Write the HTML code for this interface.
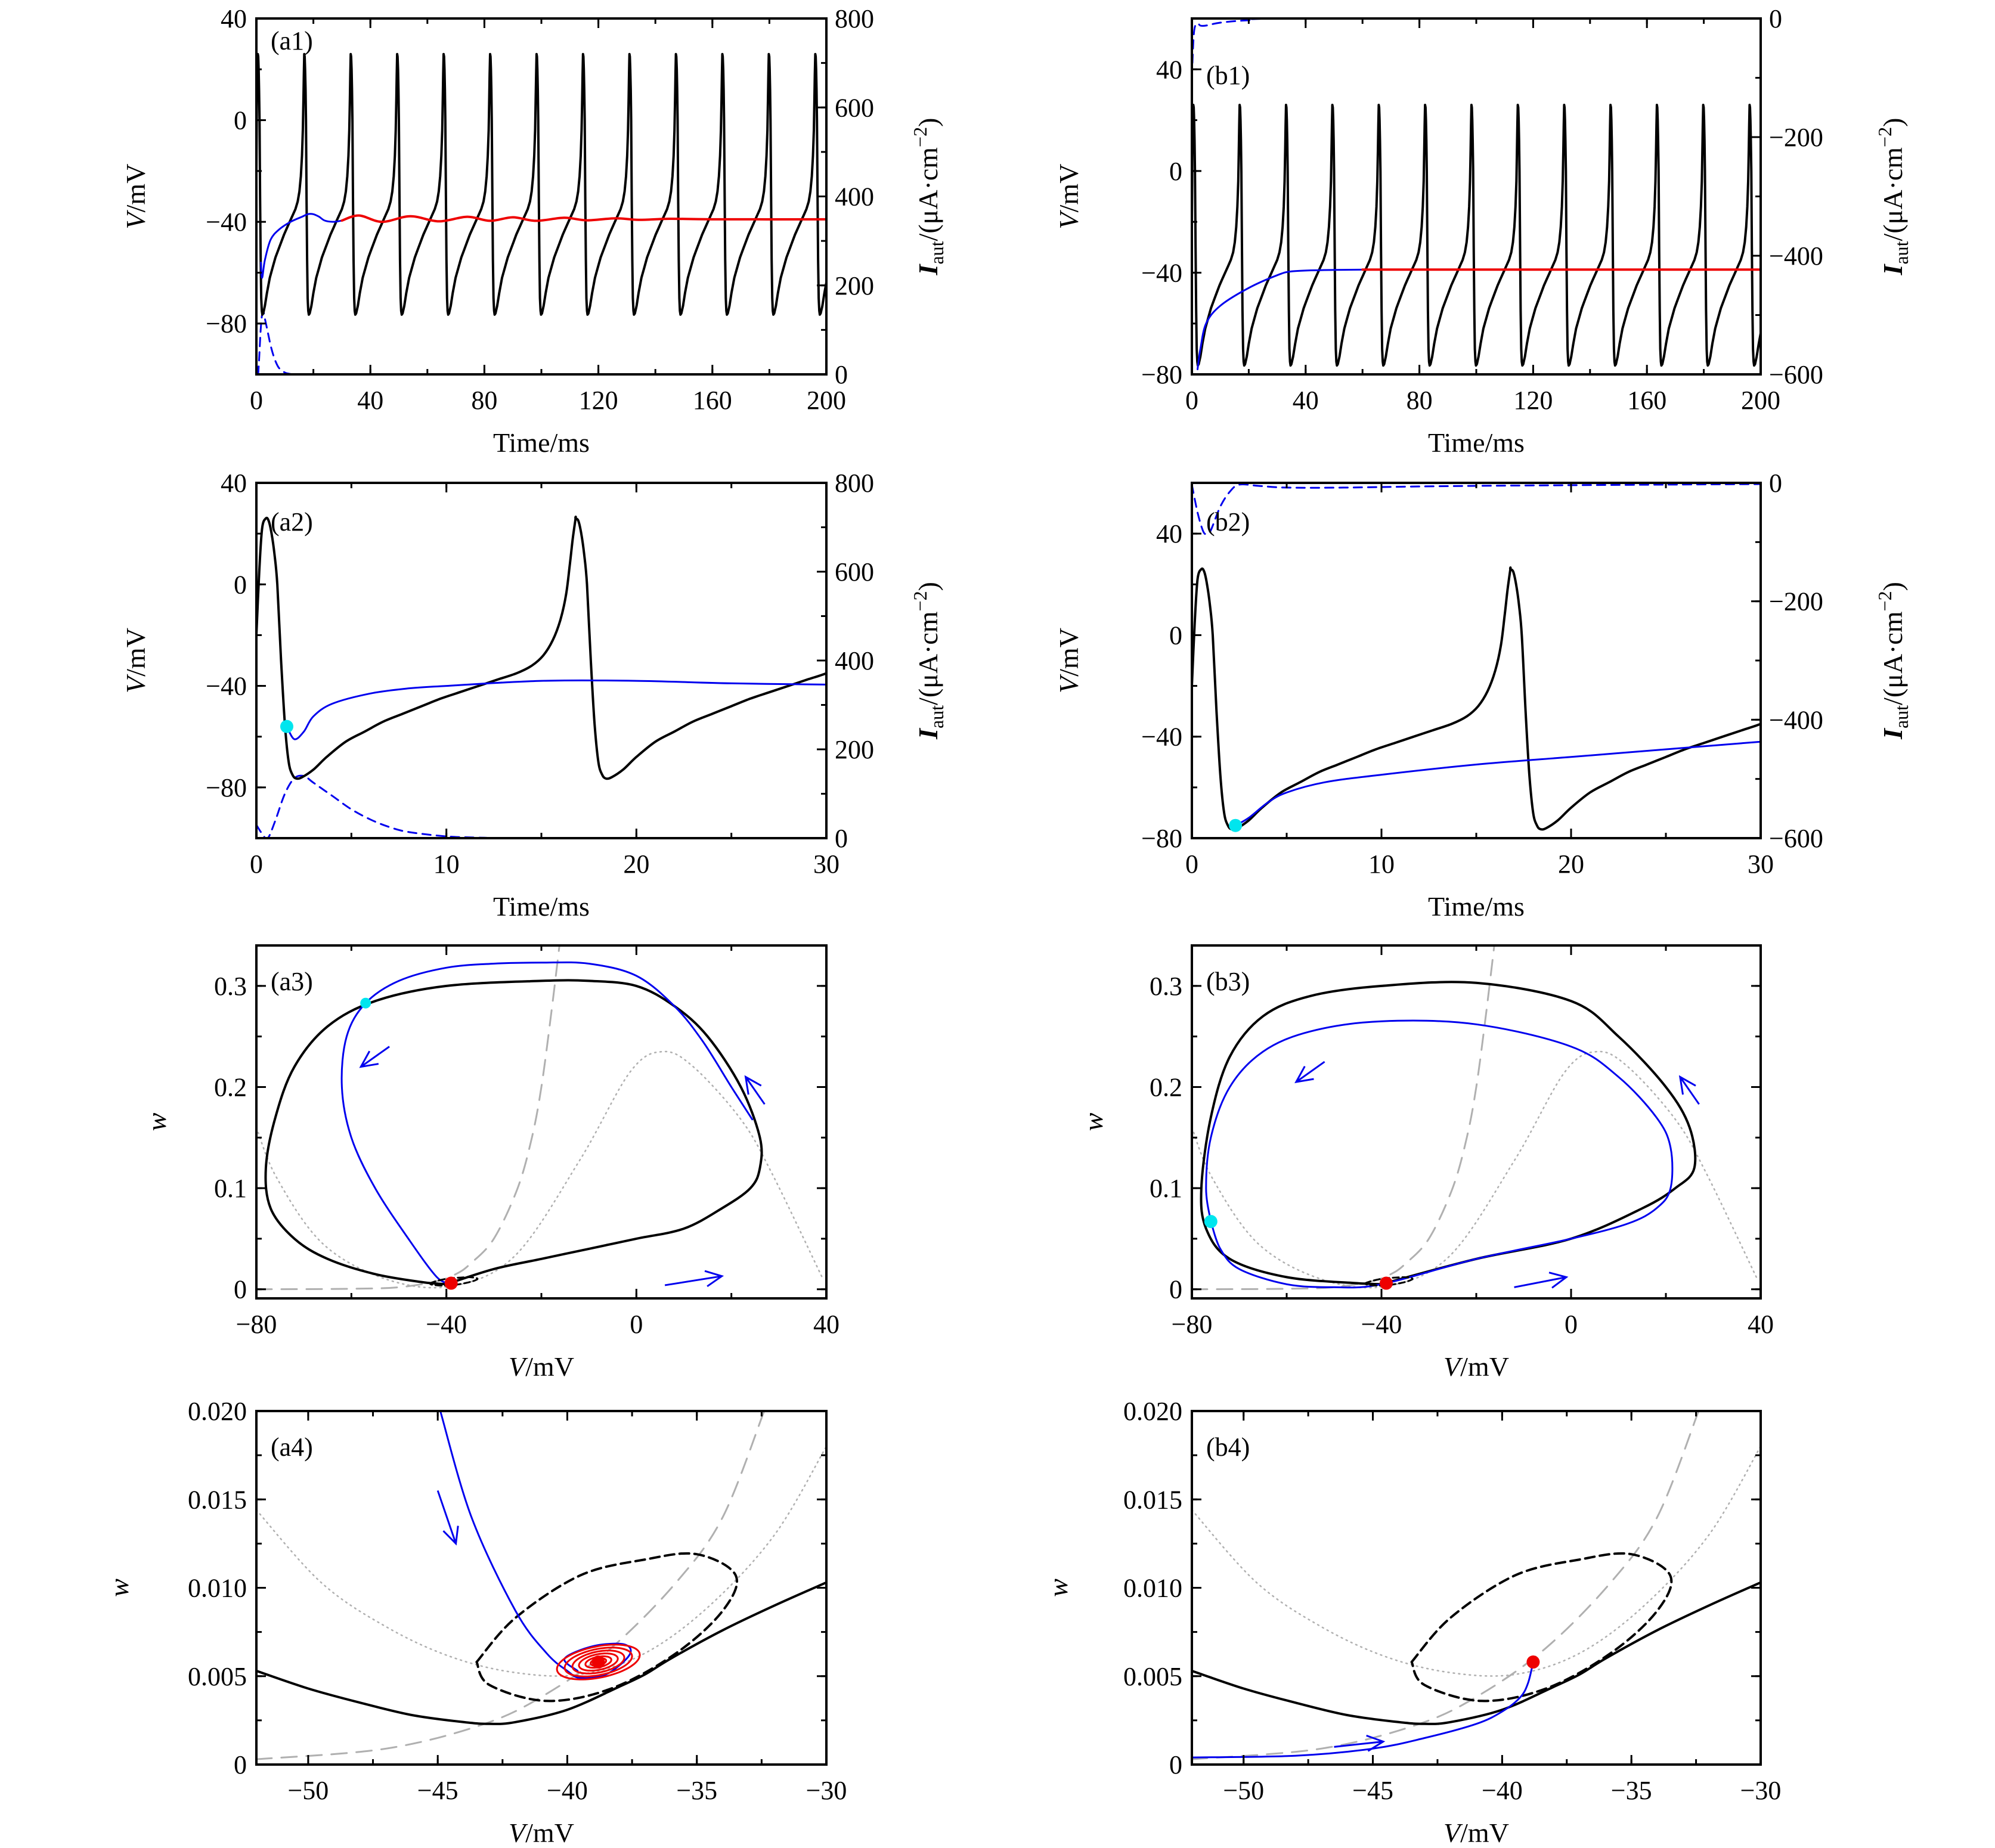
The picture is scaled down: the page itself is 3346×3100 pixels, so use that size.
<!DOCTYPE html>
<html><head><meta charset="utf-8"><style>
html,body{margin:0;padding:0;background:#fff}
svg{display:block}
text{font-family:"Liberation Serif","DejaVu Serif",serif;fill:#000}
</style></head><body>
<svg id="fig" width="3346" height="3100" viewBox="0 0 3346 3100" xmlns="http://www.w3.org/2000/svg"></svg>
<script>
// ---------- data ----------
const spikePeaks=[0.5,16.8,33.1,49.4,65.7,82.0,98.3,114.6,130.9,147.2,163.5,179.8,196.1];
const cycleT=[0,0.15,0.3,0.45,0.6,0.8,1.0,1.2,1.4,1.6,1.9,2.5,3.2,4.2,5.2,6.2,7.2,8.2,9.2,10.2,11.2,12.2,13.2,14.0,14.6,15.1,15.5,15.8,16.0,16.15,16.3];
const cycleV=[26,25,20,12,0,-30,-55,-70,-75,-76.5,-76,-73,-68,-62,-58,-54,-51,-48,-45,-42.5,-40,-37.5,-35,-32,-28,-22,-14,-4,8,18,26];
const startT=[0,0.15,0.3];const startV=[-20,5,22];

const a1BlueT=[1.6,2,3,5,8,12,16,18,20,22,24,27,30];
const a1BlueV=[-56,-62,-55,-47,-43,-40,-38,-37,-37,-38,-39.5,-40,-39.5];
const a1RedT=[30,36,44,54,64,74,82,90,98,108,116,126,134,145,160,200];
const a1RedV=[-39.5,-37.5,-40,-37.8,-39.8,-38,-39.6,-38.2,-39.6,-38.4,-39.4,-38.6,-39.2,-38.8,-39,-39];
const aDashT=[0,0.3,0.6,1,1.5,2,2.5,3,4,5,6,7,8,10,12,14,30];
const aDashI=[30,10,0,40,100,135,140,125,95,65,42,25,14,4,1,0,0];
const a2BlueT=[1.6,2,2.5,3,4,6,8,10,15,20,25,30];
const a2BlueV=[-56,-61,-58,-52,-47,-43,-41,-40,-38,-38,-39,-39.5];

const b1BlueT=[2,3,5,10,20,30,35,45,60];
const b1BlueV=[-78,-70,-60,-53,-46,-41,-39.5,-39,-38.8];
const b1RedT=[60,200];const b1RedV=[-38.8,-38.8];
const b1DashT=[0,0.5,1,2,3,5,10,20,40,200];
const b1DashI=[-99,-40,-15,-8,-12,-12,-7,-3,0,0];
const b2BlueT=[2.3,3,4,5,7,10,15,20,25,30];
const b2BlueV=[-75,-72,-66,-62,-58,-55,-51,-48,-45,-42];
const b2DashT=[0,0.3,0.6,0.8,1,1.5,2,2.5,3.5,5,8,15,30];
const b2DashI=[-3,-50,-82,-86,-80,-40,-15,-3,-5,-8,-8,-5,-2];

const a3CycV=[-40,-30,-20,-10,0,10,18,24,26,26,22,15,8,0,-10,-20,-40,-55,-65,-72,-76,-78,-77,-72,-65,-55,-45,-40];
const a3CycW=[0.005,0.02,0.03,0.04,0.05,0.06,0.08,0.1,0.12,0.15,0.2,0.25,0.28,0.30,0.305,0.305,0.3,0.285,0.26,0.22,0.17,0.12,0.08,0.05,0.03,0.015,0.007,0.005];
const a3BlueV=[24.4,20,14,8,0,-10,-20,-30,-40,-50,-57,-61,-62,-60,-55,-48,-42,-39];
const a3BlueW=[0.168,0.2,0.245,0.28,0.31,0.322,0.323,0.322,0.318,0.305,0.283,0.25,0.2,0.15,0.1,0.05,0.012,0.006];
const b3CycV=[-40,-20,0,15,22,26,25,20,10,0,-20,-40,-55,-65,-72,-76,-78,-77,-72,-60,-45,-40];
const b3CycW=[0.005,0.03,0.05,0.08,0.1,0.12,0.16,0.2,0.25,0.285,0.303,0.3,0.29,0.27,0.23,0.17,0.1,0.06,0.03,0.012,0.006,0.005];
const b3BlueV=[-76,-74,-70,-60,-50,-40,-20,0,12,18,21,21,18,10,0,-20,-40,-55,-65,-72,-76,-77,-76];
const b3BlueW=[0.067,0.04,0.02,0.005,0.002,0.005,0.03,0.05,0.065,0.08,0.1,0.14,0.17,0.21,0.24,0.262,0.265,0.255,0.235,0.2,0.15,0.1,0.067];
const wNullV=[-80,-60,-50,-42,-38,-35,-30,-25,-22,-20,-18,-16.2];
const wNullW=[0,0.0005,0.002,0.008,0.015,0.025,0.05,0.1,0.15,0.2,0.27,0.34];
const vNullV=[-80,-75.7,-66,-52.7,-39,-25.6,-12,-1.3,5.5,12,22,28.5,39.3];
const vNullW=[0.16,0.11,0.045,0.01,0.003,0.033,0.127,0.215,0.235,0.22,0.168,0.115,0.01];

const zSolidV=[-52,-50,-48,-46,-44,-43,-42,-40,-38,-37,-36,-34,-32,-30];
const zSolidW=[0.0053,0.0043,0.0035,0.0028,0.0024,0.0023,0.0024,0.0031,0.0044,0.0051,0.006,0.0076,0.009,0.0103];
const zEllV=[-43.5,-42,-39.5,-37,-35,-33.5,-34,-35.8,-38.3,-40.8,-43,-43.5];
const zEllW=[0.0058,0.0083,0.0107,0.0116,0.0119,0.0107,0.0087,0.0063,0.0043,0.0036,0.0045,0.0058];
const zWNullV=[-52,-47,-43.2,-40.8,-38.3,-35.8,-34,-32.4];
const zWNullW=[0.0003,0.0009,0.0023,0.004,0.0066,0.0103,0.014,0.02];
const zVNullV=[-52,-49.5,-47,-44.5,-42,-39.5,-37,-34.5,-32,-30];
const zVNullW=[0.0144,0.0103,0.0078,0.0061,0.0052,0.0051,0.0063,0.009,0.013,0.018];
const a4BlueV=[-44.9,-43.7,-42,-40.8,-40,-39.5,-38.5,-37.6,-37.8,-39,-40.1,-39.6];
const a4BlueW=[0.02,0.014,0.0087,0.0063,0.0053,0.0049,0.0051,0.0062,0.0068,0.0067,0.006,0.0053];
const spiralRx=[1.6,1.3,1.0,0.75,0.5,0.3];
const spiralRy=[0.0009,0.00075,0.0006,0.00045,0.0003,0.0002];
const fixedV=-38.8, fixedW=0.0058;
const b4BlueV=[-52,-48,-45,-43,-41,-40,-39.3,-39,-38.8];
const b4BlueW=[0.0004,0.0005,0.0009,0.0015,0.0023,0.003,0.0038,0.0046,0.0058];

// ---------- helpers ----------
const NS="http://www.w3.org/2000/svg";
const svg=document.getElementById('fig');
function el(tag,attrs,parent){const e=document.createElementNS(NS,tag);for(const k in attrs)e.setAttribute(k,attrs[k]);(parent||svg).appendChild(e);return e;}
function fmt(v){let s=String(Math.round(v*1000)/1000);if(s.startsWith('-'))s='\u2212'+s.slice(1);return s;}
function smoothPath(P){
  if(P.length<3){return P.map((p,i)=>(i?'L':'M')+p[0].toFixed(1)+','+p[1].toFixed(1)).join('');}
  let d='M'+P[0][0].toFixed(1)+','+P[0][1].toFixed(1);
  for(let i=0;i<P.length-1;i++){const p0=P[Math.max(0,i-1)],p1=P[i],p2=P[i+1],p3=P[Math.min(P.length-1,i+2)];
    const c1=[p1[0]+(p2[0]-p0[0])/6,p1[1]+(p2[1]-p0[1])/6],c2=[p2[0]-(p3[0]-p1[0])/6,p2[1]-(p3[1]-p1[1])/6];
    d+='C'+c1[0].toFixed(1)+','+c1[1].toFixed(1)+' '+c2[0].toFixed(1)+','+c2[1].toFixed(1)+' '+p2[0].toFixed(1)+','+p2[1].toFixed(1);}
  return d;
}
let clipId=0;
function makePanel(c){
  const g=el('g',{});
  
  
  const sx=v=>c.x0+(v-c.xd[0])/(c.xd[1]-c.xd[0])*(c.x1-c.x0);
  const sy=v=>c.y1-(v-c.yd[0])/(c.yd[1]-c.yd[0])*(c.y1-c.y0);
  const sy2=c.y2d?(v=>c.y1-(v-c.y2d[0])/(c.y2d[1]-c.y2d[0])*(c.y1-c.y0)):null;
  const id='clip'+(clipId++);
  const cp=el('clipPath',{id},g);el('rect',{x:c.x0,y:c.y0,width:c.x1-c.x0,height:c.y1-c.y0},cp);
  const plot=el('g',{'clip-path':`url(#${id})`},g);
  const api={sx,sy,sy2,plot,g,c};
  api.line=(xs,ys,st,name,useY2,sharp)=>{const f=useY2?sy2:sy;const P=xs.map((x,i)=>[sx(x),f(ys[i])]);
    const d=sharp?P.map((p,i)=>(i?'L':'M')+p[0].toFixed(1)+','+p[1].toFixed(1)).join(''):smoothPath(P);
    const p=el('path',Object.assign({d,fill:'none','stroke-linejoin':'round','stroke-linecap':'round'},st),plot);
    
    return p;};
  api.frame=()=>{
    const drawX=(list,len)=>list.forEach(v=>{const x=sx(v);el('line',{x1:x,x2:x,y1:c.y1,y2:c.y1-len,stroke:'#000','stroke-width':3},g);el('line',{x1:x,x2:x,y1:c.y0,y2:c.y0+len,stroke:'#000','stroke-width':3},g);});
    drawX(c.xMaj,16);drawX(c.xMin,9);
    const drawY=(list,len,f,left,right)=>list.forEach(v=>{const y=f(v);if(left)el('line',{x1:c.x0,x2:c.x0+len,y1:y,y2:y,stroke:'#000','stroke-width':3},g);if(right)el('line',{x1:c.x1,x2:c.x1-len,y1:y,y2:y,stroke:'#000','stroke-width':3},g);});
    drawY(c.yMaj,16,sy,true,!c.y2d);drawY(c.yMin,9,sy,true,!c.y2d);
    if(c.y2d){drawY(c.y2Maj,16,sy2,false,true);drawY(c.y2Min,9,sy2,false,true);}
    const fr=el('rect',{x:c.x0,y:c.y0,width:c.x1-c.x0,height:c.y1-c.y0,fill:'none',stroke:'#000','stroke-width':4},g);
    
    
    c.xMaj.forEach(v=>{const t=el('text',{x:sx(v),y:c.y1+58,'font-size':44,'text-anchor':'middle'},g);t.textContent=fmt(v);
      
      });
    c.yMaj.forEach(v=>{const t=el('text',{x:c.x0-16,y:sy(v)+15,'font-size':44,'text-anchor':'end'},g);t.textContent=c.yfmt?c.yfmt(v):fmt(v);
      
      });
    if(c.y2d)c.y2Maj.forEach(v=>{const t=el('text',{x:c.x1+14,y:sy2(v)+15,'font-size':44,'text-anchor':'start'},g);t.textContent=fmt(v);
      
      });
    const xt=el('text',{x:(c.x0+c.x1)/2,y:c.y1+130,'font-size':46,'text-anchor':'middle'},g);
    if(c.xtitle==='time'){xt.textContent='Time/ms';}else{const a=el('tspan',{'font-style':'italic'},xt);a.textContent='V';const b=el('tspan',{},xt);b.textContent='/mV';}
    
    
    const ytx=c.ytx, yty=(c.y0+c.y1)/2;
    const yt=el('text',{x:ytx,y:yty,'font-size':46,'text-anchor':'middle',transform:`rotate(-90 ${ytx} ${yty})`},g);
    if(c.ytitle==='w'){const a=el('tspan',{'font-style':'italic'},yt);a.textContent='w';}
    else{const a=el('tspan',{'font-style':'italic'},yt);a.textContent='V';const b=el('tspan',{},yt);b.textContent='/mV';}
    
    
    if(c.y2d){const x2=c.y2tx;const t=el('text',{x:x2,y:yty,'font-size':46,'text-anchor':'middle',transform:`rotate(-90 ${x2} ${yty})`},g);
      const a=el('tspan',{'font-style':'italic','font-weight':'bold'},t);a.textContent='I';
      const s=el('tspan',{'font-size':32,dy:10},t);s.textContent='aut';
      const b=el('tspan',{dy:-10},t);b.textContent='/(μA·cm';
      const s2=el('tspan',{'font-size':32,dy:-18},t);s2.textContent='−2';
      const b2=el('tspan',{dy:18},t);b2.textContent=')';
      
      }
    const pl=el('text',{x:c.x0+24,y:c.y0+c.labY,'font-size':44},g);pl.textContent=c.label;
    
    
  };
  api.dot=(v,w,r,color,name)=>{const d=el('circle',{cx:sx(v),cy:sy(w),r,fill:color},plot);
    
    };
  api.arrow=(v1,w1,v2,w2,name)=>{const x1=sx(v1),y1=sy(w1),x2=sx(v2),y2=sy(w2);const a=Math.atan2(y2-y1,x2-x1);const L=30;
    const d=`M${x1},${y1}L${x2},${y2}M${x2-L*Math.cos(a-0.45)},${y2-L*Math.sin(a-0.45)}L${x2},${y2}L${x2-L*Math.cos(a+0.45)},${y2-L*Math.sin(a+0.45)}`;
    const p=el('path',{d,fill:'none',stroke:'#0000ee','stroke-width':3},plot);
    
    };
  return api;
}
function train(tmax){const T=startT.slice(),V=startV.slice();
  spikePeaks.forEach(p=>{for(let i=0;i<cycleT.length;i++){const t=p+cycleT[i];if(t<=tmax+16.3){T.push(t);V.push(cycleV[i]);}}});return [T,V];}
const range=(a,b,s)=>{const r=[];for(let v=a;v<=b+1e-9;v+=s)r.push(Math.round(v*1e6)/1e6);return r;};

const L={x0:430,x1:1386,ytx:243,y2tx:1572}, R={x0:1999,x1:2953,ytx:1808,y2tx:3190};
const rows=[[31,628],[810,1406],[1586,2178],[2367,2960]];
const BLK={stroke:'#000','stroke-width':4}, BLU={stroke:'#0000ee','stroke-width':3}, RED={stroke:'#ee0000','stroke-width':4};
const BDASH={stroke:'#0000ee','stroke-width':3,'stroke-dasharray':'14 10'};
const GDASH={stroke:'#b0b0b0','stroke-width':3,'stroke-dasharray':'26 16'};
const GDOT={stroke:'#b0b0b0','stroke-width':2.5,'stroke-dasharray':'2 7'};

function timePanel(side,row,name,label,xmax,xMajS,xMinS,aType,labY){
  const isA=aType;
  return makePanel(Object.assign({},side,{name,label,labY,y0:rows[row][0],y1:rows[row][1],xd:[0,xmax],
    yd:isA?[-100,40]:[-80,60],y2d:isA?[0,800]:[-600,0],
    xMaj:range(0,xmax,xMajS),xMin:range(0,xmax,xMinS),
    yMaj:[-80,-40,0,40],yMin:isA?range(-100,40,20):range(-80,60,20),
    y2Maj:isA?range(0,800,200):range(-600,0,200),y2Min:isA?range(0,800,100):range(-600,0,100),
    xtitle:'time',ytitle:'V'}));
}
const [TT,VV]=train(200);
let p=timePanel(L,0,'panel-a1','(a1)',200,40,20,true,52);
p.line(aDashT,aDashI,BDASH,'iaut-dashed-line',true);
p.line(TT,VV,BLK,'membrane-voltage-line',false,true);
p.line(a1BlueT,a1BlueV,BLU,'transient-line');
p.line(a1RedT,a1RedV,RED,'steady-state-line');
p.frame();

p=timePanel(R,0,'panel-b1','(b1)',200,40,20,false,110);
p.line(b1DashT,b1DashI,BDASH,'iaut-dashed-line',true);
p.line(TT,VV,BLK,'membrane-voltage-line',false,true);
p.line(b1BlueT,b1BlueV,BLU,'transient-line');
p.line(b1RedT,b1RedV,RED,'steady-state-line');
p.frame();

p=timePanel(L,1,'panel-a2','(a2)',30,10,5,true,80);
p.line(aDashT,aDashI,BDASH,'iaut-dashed-line',true);
p.line(TT,VV,BLK,'membrane-voltage-line');
p.line(a2BlueT,a2BlueV,BLU,'transient-line');
p.dot(a2BlueT[0],a2BlueV[0],11,'#00e5ee','switch-point');
p.frame();

p=timePanel(R,1,'panel-b2','(b2)',30,10,5,false,80);
p.line(b2DashT,b2DashI,BDASH,'iaut-dashed-line',true);
p.line(TT,VV,BLK,'membrane-voltage-line');
p.line(b2BlueT,b2BlueV,BLU,'transient-line');
p.dot(b2BlueT[0],b2BlueV[0],11,'#00e5ee','switch-point');
p.frame();

function phasePanel(side,name,label){
  return makePanel(Object.assign({},side,{name,label,labY:75,y0:rows[2][0],y1:rows[2][1],xd:[-80,40],yd:[-0.009,0.34],
    xMaj:[-80,-40,0,40],xMin:range(-80,40,20),yMaj:[0,0.1,0.2,0.3],yMin:range(0,0.3,0.05),xtitle:'V',ytitle:'w',
    ytx:side===L?278:1849}));
}
p=phasePanel(L,'panel-a3','(a3)');
p.line(wNullV,wNullW,GDASH,'w-nullcline');
p.line(vNullV,vNullW,GDOT,'v-nullcline');
p.line(a3CycV,a3CycW,BLK,'limit-cycle');
p.line(a3BlueV,a3BlueW,BLU,'trajectory');
p.line(zEllV,zEllW,{stroke:'#000','stroke-width':3,'stroke-dasharray':'10 6'},'unstable-cycle');
p.dot(-39,0.006,11,'#ee0000','fixed-point');
p.dot(-57,0.283,9,'#00e5ee','switch-point');
p.arrow(-52,0.24,-58,0.22,'direction-arrow');
p.arrow(27,0.183,23,0.21,'direction-arrow');
p.arrow(6,0.004,18,0.013,'direction-arrow');
p.frame();

p=phasePanel(R,'panel-b3','(b3)');
p.line(wNullV,wNullW,GDASH,'w-nullcline');
p.line(vNullV,vNullW,GDOT,'v-nullcline');
p.line(b3CycV,b3CycW,BLK,'limit-cycle');
p.line(b3BlueV,b3BlueW,BLU,'trajectory');
p.line(zEllV,zEllW,{stroke:'#000','stroke-width':3,'stroke-dasharray':'10 6'},'unstable-cycle');
p.dot(-39,0.006,11,'#ee0000','fixed-point');
p.dot(-76,0.067,11,'#00e5ee','switch-point');
p.arrow(-52,0.225,-58,0.205,'direction-arrow');
p.arrow(27,0.183,23,0.21,'direction-arrow');
p.arrow(-12,0.002,-1,0.012,'direction-arrow');
p.frame();

function zoomPanel(side,name,label){
  return makePanel(Object.assign({},side,{name,label,labY:75,y0:rows[3][0],y1:rows[3][1],xd:[-52,-30],yd:[0,0.02],
    xMaj:[-50,-45,-40,-35,-30],xMin:range(-52.5,-30,2.5).filter(v=>v>=-52),yMaj:[0,0.005,0.01,0.015,0.02],yMin:range(0,0.02,0.0025),
    yfmt:v=>v===0?'0':v.toFixed(3),xtitle:'V',ytitle:'w',ytx:side===L?215:1790}));
}
p=zoomPanel(L,'panel-a4','(a4)');
p.line(zWNullV,zWNullW,GDASH,'w-nullcline');
p.line(zVNullV,zVNullW,GDOT,'v-nullcline');
p.line(zSolidV,zSolidW,BLK,'limit-cycle');
p.line(zEllV,zEllW,{stroke:'#000','stroke-width':4,'stroke-dasharray':'16 9'},'unstable-cycle');
p.line(a4BlueV,a4BlueW,BLU,'trajectory');
spiralRx.forEach((rx,k)=>{const xs=[],ys=[];for(let i=0;i<=40;i++){const a=i/40*2*Math.PI;const u=rx*Math.cos(a),v=spiralRy[k]*Math.sin(a);
  xs.push(fixedV+u);ys.push(fixedW+v+u*0.00025);}p.line(xs,ys,{stroke:'#ee0000','stroke-width':3},'spiral-ring');});
p.dot(fixedV,fixedW,11,'#ee0000','fixed-point');
p.arrow(-45,0.0155,-44.3,0.0125,'direction-arrow');
p.frame();

p=zoomPanel(R,'panel-b4','(b4)');
p.line(zWNullV,zWNullW,GDASH,'w-nullcline');
p.line(zVNullV,zVNullW,GDOT,'v-nullcline');
p.line(zSolidV,zSolidW,BLK,'limit-cycle');
p.line(zEllV,zEllW,{stroke:'#000','stroke-width':4,'stroke-dasharray':'16 9'},'unstable-cycle');
p.line(b4BlueV,b4BlueW,BLU,'trajectory');
p.dot(fixedV,fixedW,11,'#ee0000','fixed-point');
p.arrow(-46.5,0.001,-44.6,0.0013,'direction-arrow');
p.frame();
</script>
</body></html>
